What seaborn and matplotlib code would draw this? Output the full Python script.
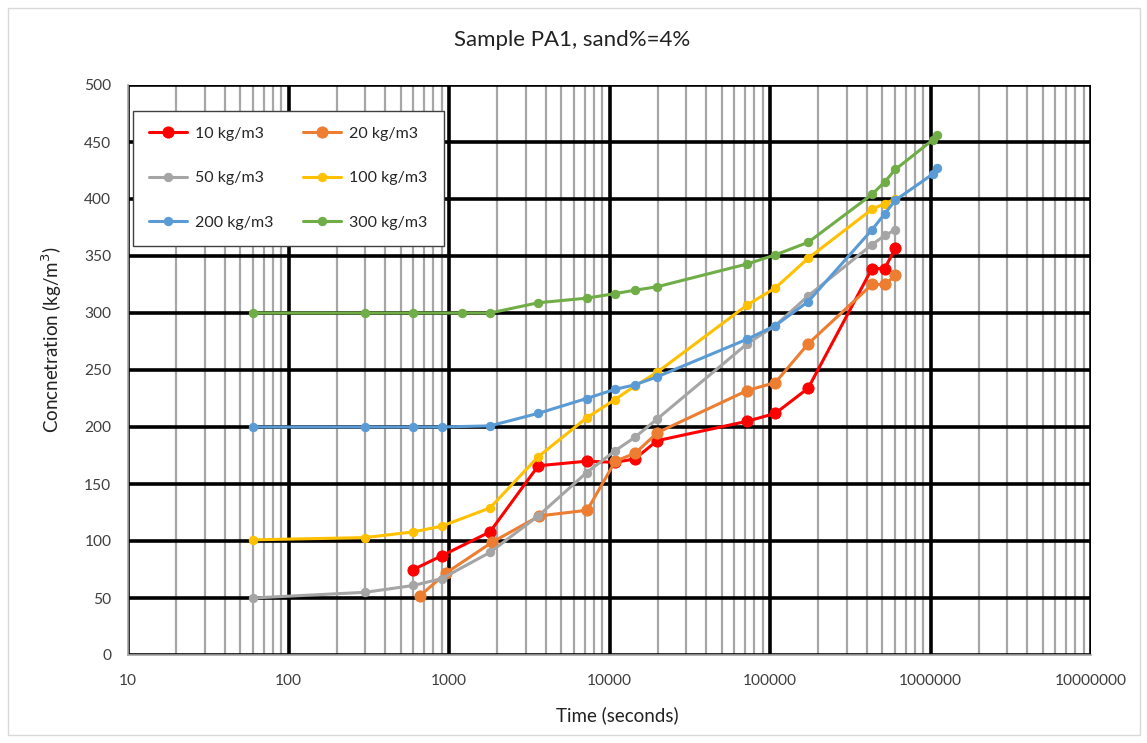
import numpy as np
import pandas as pd
import matplotlib
matplotlib.use("Agg")
import matplotlib.pyplot as plt
from matplotlib.ticker import FixedLocator, FixedFormatter, LogLocator, NullFormatter
from matplotlib.patches import Rectangle
import seaborn as sns

# ---- data ----
t_10 = [600, 900, 1800, 3600, 7200, 10800, 14400, 19800, 72000, 108000, 172800, 432000, 518400, 604800]
c_10 = [75, 87, 108, 166, 170, 169, 172, 188, 205, 212, 234, 339, 339, 357]

t_20 = [660, 960, 1860, 3660, 7260, 10860, 14460, 19860, 72060, 108060, 172860, 432060, 518460, 604860]
c_20 = [52, 72, 99, 122, 127, 170, 177, 195, 232, 239, 273, 325, 325, 333]

t_50 = [60, 300, 600, 900, 1800, 3600, 7200, 10800, 14400, 19800, 72000, 108000, 172800, 432000, 518400, 604800]
c_50 = [50, 55, 61, 67, 90, 122, 160, 179, 191, 207, 273, 289, 315, 360, 368, 373]

t_100 = [60, 300, 600, 900, 1800, 3600, 7200, 10800, 14400, 19800, 72000, 108000, 172800, 432000, 518400, 604800]
c_100 = [101, 103, 108, 113, 129, 174, 208, 224, 236, 248, 307, 322, 348, 391, 396, 400]

t_200 = [60, 300, 600, 900, 1800, 3600, 7200, 10800, 14400, 19800, 72000, 108000, 172800, 432000, 518400, 604800, 1036800, 1101600]
c_200 = [200, 200, 200, 200, 201, 212, 225, 233, 237, 244, 277, 289, 310, 373, 387, 399, 422, 427]

t_300 = [60, 300, 600, 1200, 1800, 3600, 7200, 10800, 14400, 19800, 72000, 108000, 172800, 432000, 518400, 604800, 1036800, 1101600]
c_300 = [300, 300, 300, 300, 300, 309, 313, 317, 320, 323, 343, 351, 362, 404, 415, 426, 452, 456]

labels = ["10 kg/m3", "20 kg/m3", "50 kg/m3", "100 kg/m3", "200 kg/m3", "300 kg/m3"]
colors = ["#FF0000", "#ED7D31", "#A5A5A5", "#FFC000", "#5B9BD5", "#70AD47"]
msizes = [8, 8, 6, 6, 6, 6]

x_ticks = [10, 100, 1000, 10000, 100000, 1000000, 10000000]
x_tick_labels = ["10", "100", "1000", "10000", "100000", "1000000", "10000000"]
y_ticks = list(range(0, 501, 50))

series = [(t_10, c_10), (t_20, c_20), (t_50, c_50), (t_100, c_100), (t_200, c_200), (t_300, c_300)]

# ---- plot ----
sns.set_theme(style="white")
plt.rcParams["font.family"] = ["Lato", "DejaVu Sans"]

fig = plt.figure(figsize=(11.47, 7.43), dpi=100)
ax = fig.add_axes([128/1147, 1-655/743, (1091-128)/1147, (655-85)/743])

for (t, c), lab, col, ms in zip(series, labels, colors, msizes):
    df = pd.DataFrame({"t": t, "c": c})
    sns.lineplot(data=df, x="t", y="c", ax=ax, color=col, marker="o", markersize=ms,
                 markeredgecolor=col, linewidth=2.2, label=lab, sort=False, estimator=None)

ax.set_xscale("log")
ax.set_xlim(10, 1e7)
ax.set_ylim(0, 500)

ax.xaxis.set_major_locator(FixedLocator(x_ticks))
ax.xaxis.set_major_formatter(FixedFormatter(x_tick_labels))
ax.xaxis.set_minor_locator(LogLocator(base=10, subs=np.arange(2, 10), numticks=100))
ax.xaxis.set_minor_formatter(NullFormatter())
ax.set_yticks(y_ticks)
ax.set_yticklabels([str(v) for v in y_ticks])

ax.grid(which="major", axis="both", color="black", linewidth=2.6, zorder=0)
ax.grid(which="minor", axis="x", color="#A6A6A6", linewidth=1.6, zorder=0)
ax.set_axisbelow(True)

ax.tick_params(axis="both", which="both", length=0, labelsize=11.2, colors="#404040")
ax.tick_params(axis="x", pad=14)
ax.tick_params(axis="y", pad=12)

for side in ["top", "right"]:
    ax.spines[side].set_visible(False)
ax.spines["left"].set_color("#A6A6A6")
ax.spines["bottom"].set_color("#A6A6A6")
ax.spines["left"].set_linewidth(1.2)
ax.spines["bottom"].set_linewidth(1.2)

ax.set_xlabel("")
ax.set_ylabel("")
fig.text(617/1147, 1-715/743, "Time (seconds)", fontsize=13.5, color="#222222",
         ha="center", va="center")
fig.text(52/1147, 1-340/743, "Concnetration (kg/m$^3$)", fontsize=13.5, color="#222222",
         ha="center", va="center", rotation=90)
fig.text(572/1147, 1-40/743, "Sample PA1, sand%=4%", fontsize=16, color="#222222",
         ha="center", va="center")

# row-major legend order (matplotlib fills columns first)
handles, labs = ax.get_legend_handles_labels()
order = [0, 2, 4, 1, 3, 5]
leg = ax.legend([handles[i] for i in order], [labs[i] for i in order],
                loc="upper left", bbox_to_anchor=(0.005, 0.955), ncol=2, fontsize=11.5,
                frameon=True, fancybox=False, borderaxespad=0, handlelength=2.4,
                labelspacing=1.9, columnspacing=1.85, borderpad=1.0, handletextpad=0.5)
leg.get_frame().set_edgecolor("#404040")
leg.get_frame().set_linewidth(1.0)
leg.get_frame().set_facecolor("white")
leg.get_frame().set_alpha(1.0)

fig.patches.append(Rectangle((8/1147, 8/743), 1132/1147, 727/743, transform=fig.transFigure,
                             fill=False, edgecolor="#D9D9D9", linewidth=1.0))

fig.savefig("out.png", dpi=100)
